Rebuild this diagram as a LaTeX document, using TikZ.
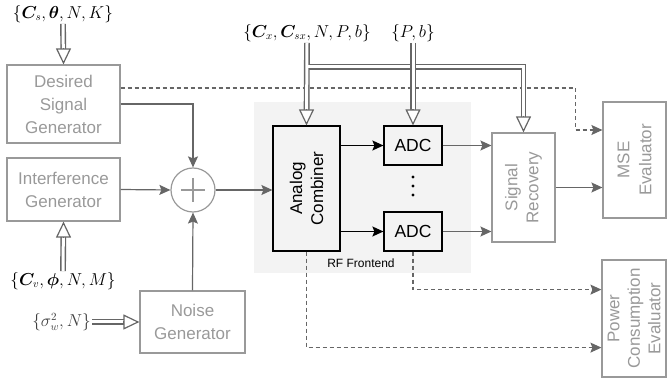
\documentclass[tikz,border=0pt]{standalone}
\usepackage{fontspec}
\setmainfont{Liberation Sans}
\usepackage{bm}
\usetikzlibrary{arrows.meta,calc}
\definecolor{ag}{HTML}{666666}
\definecolor{bg}{HTML}{999999}
\definecolor{tg}{HTML}{999999}
\definecolor{rfbg}{HTML}{F3F3F3}
\newcommand{\dblhead}[2]{\path[dhead] #1 -- #2;}
\begin{document}
\begin{tikzpicture}[x=1pt,y=-1pt,
  gbox/.style={draw=bg, line width=1.2pt, inner sep=0pt, text=tg, align=center, font=\fontsize{17}{23}\selectfont},
  kbox/.style={draw=black, line width=1.2pt, inner sep=0pt, align=center, font=\fontsize{17.5}{21}\selectfont},
  rtext/.style={rotate=90, align=center, inner sep=0pt, font=\fontsize{17}{21}\selectfont},
  mlab/.style={inner sep=1pt, font=\fontsize{16}{18}\selectfont},
  arr/.style={draw=ag, line width=1.2pt, -{Stealth[length=11pt, width=10pt, inset=2pt]}},
  karr/.style={draw=black, line width=1.3pt, -{Stealth[length=11pt, width=10pt, inset=2pt]}},
  darr/.style={draw=ag, line width=1.1pt, dash pattern=on 4pt off 3pt, -{Stealth[length=11pt, width=10pt, inset=2pt]}},
  dbl/.style={draw=ag, line width=1.4pt, double=white, double distance=3pt, shorten >=15.4pt},
  dhead/.style={draw=ag, line width=1.2pt, -{Triangle[length=16pt, width=15pt, fill=white]}},
]
\useasboundingbox (0,0) rectangle (667,379);
% RF frontend background
\node[fill=rfbg, minimum width=217pt, minimum height=171pt, inner sep=0pt] (rf) at (362.5,187.5) {};
\node[inner sep=0pt, font=\fontsize{12}{14}\selectfont] (rflab) at (361,263) {RF Frontend};

% blocks
\node[gbox, minimum width=113pt, minimum height=78pt] (dsg) at (63.5,104) {Desired\\Signal\\Generator};
\node[gbox, minimum width=113pt, minimum height=63pt] (ig) at (63.5,189.5) {Interference\\Generator};
\node[circle, draw=bg, line width=1.2pt, minimum size=44pt, inner sep=0pt] (sum) at (193,190) {};
\draw[bg, line width=1.1pt] ($(sum.center)+(-12,0)$) -- ($(sum.center)+(12,0)$)
  ($(sum.center)+(0,-12)$) -- ($(sum.center)+(0,12)$);
\node[gbox, minimum width=105pt, minimum height=62pt] (ng) at (192.5,322) {Noise\\Generator};
\node[kbox, minimum width=67pt, minimum height=125pt] (comb) at (306.5,188.5) {};
\node[rtext] (combt) at (comb) {Analog\\Combiner};
\node[kbox, minimum width=58pt, minimum height=39pt] (adc1) at (413,145.5) {ADC};
\node[kbox, minimum width=58pt, minimum height=39pt] (adc2) at (413,231.5) {ADC};
\fill (413,177) circle (1.7pt) (413,186) circle (1.7pt) (413,195) circle (1.7pt);
\node[gbox, minimum width=63pt, minimum height=109pt] (sr) at (523.5,187.5) {};
\node[rtext, text=tg] (srt) at (sr) {Signal\\Recovery};
\node[gbox, minimum width=63pt, minimum height=116pt] (mse) at (634.5,160) {};
\node[rtext, text=tg, font=\fontsize{17}{22}\selectfont] (mset) at (mse) {MSE\\Evaluator};
\node[gbox, minimum width=64pt, minimum height=117pt] (pce) at (634,318.5) {};
\node[rtext, text=tg, font=\fontsize{17}{20.5}\selectfont] (pcet) at (pce) {Power\\Consumption\\Evaluator};

% labels
\node[mlab] (l1) at (63,14) {$\{\bm{C}_s,\bm{\theta},N,K\}$};
\node[mlab] (l2) at (63,281) {$\{\bm{C}_v,\bm{\phi},N,M\}$};
\node[mlab, text=black!75, anchor=east] (l3) at (92,322) {$\{\sigma_w^2,N\}$};
\node[mlab] (l4) at (307,33) {$\{\bm{C}_x,\bm{C}_{sx},N,P,b\}$};
\node[mlab] (l5) at (413,33) {$\{P,b\}$};

% signal arrows
\draw[arr] (dsg.east) -| (sum.north);
\draw[arr] (ig.east) -- (sum.west);
\draw[arr] (ng.north) -- (sum.south);
\draw[arr] (sum.east) -- (sum.east -| comb.west);
\draw[karr] (comb.east |- adc1.west) -- (adc1.west);
\draw[karr] (comb.east |- adc2.west) -- (adc2.west);
\draw[arr] (adc1.east) -- (adc1.east -| sr.west);
\draw[arr] (adc2.east) -- (adc2.east -| sr.west);
\draw[arr] (sr.east) -- (sr.east -| mse.west);

% dashed
\coordinate (d1) at ($(dsg.east)+(0,-16)$);
\coordinate (d1b) at ($(mse.west)+(-27,-30)$);
\draw[darr] (d1) -| (d1b) -- (d1b -| mse.west);
\coordinate (d2) at ($(comb.south)+(0,96)$);
\draw[darr] (comb.south) -- (d2) -- (d2 -| pce.west);
\coordinate (d3) at ($(adc2.south)+(0,38)$);
\draw[darr] (adc2.south) -- (d3) -- (d3 -| pce.west);

% double (parameter) arrows
\coordinate (j) at (307,67);
\draw[dbl] (j) -| (sr.north);
\dblhead{($(sr.north)+(0,-16)$)}{(sr.north)}
\draw[dbl] (l4.south) -- (comb.north);
\dblhead{($(comb.north)+(0,-16)$)}{(comb.north)}
\draw[draw=white, line width=3pt] (j) -- ++(5,0);
\draw[dbl] (l5.south) -- (adc1.north);
\dblhead{($(adc1.north)+(0,-16)$)}{(adc1.north)}
\draw[dbl] (l1.south) -- (dsg.north);
\dblhead{($(dsg.north)+(0,-16)$)}{(dsg.north)}
\draw[dbl] (l2.north) -- (ig.south);
\dblhead{($(ig.south)+(0,16)$)}{(ig.south)}
\draw[dbl] (l3.east) -- (ng.west);
\dblhead{($(ng.west)+(-16,0)$)}{(ng.west)}
\end{tikzpicture}
\end{document}
